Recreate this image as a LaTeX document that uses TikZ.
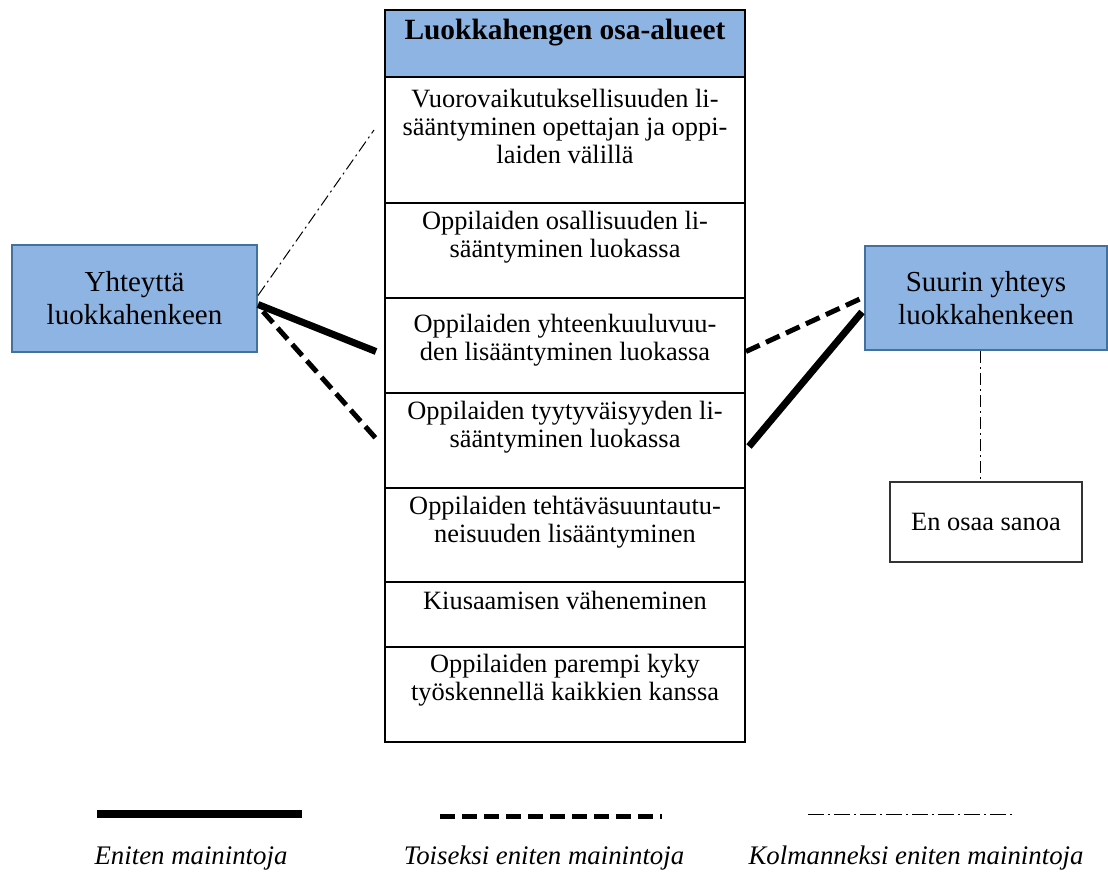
\documentclass[tikz,border=0pt]{standalone}
\usepackage{fontspec}
\setmainfont{Liberation Serif}
\usetikzlibrary{positioning}
\definecolor{osasini}{RGB}{142,180,227}
\definecolor{reunasini}{RGB}{65,113,156}
\tikzset{
  osa/.style={draw=black, line width=1pt, minimum width=180pt, inner sep=0pt},
  osateksti/.style={align=center, font=\fontsize{13.2}{14}\selectfont, inner sep=0pt},
  sivu/.style={draw=reunasini, line width=1pt, fill=osasini, align=center, font=\fontsize{14.5}{16.5}\selectfont},
  eniten/.style={line width=3.5pt},
  toiseksi/.style={line width=2.5pt, dash pattern=on 7.5pt off 3.5pt},
  kolmanneksi/.style={line width=0.5pt, dash pattern=on 6pt off 2pt on 1pt off 2pt},
  selite/.style={font=\fontsize{13.4}{16}\selectfont\itshape}
}
\newcommand{\osa}[5]{\node[osa, minimum height=#3] (#1) at (565,#2) {};
  \node[osateksti, below=#4 of #1.north] (#1t) {#5};}

\begin{document}
\begin{tikzpicture}[x=0.5pt,y=-0.5pt]
\useasboundingbox (0,0) rectangle (1108,873);
% column of areas
\node[osa, fill=osasini, minimum height=33.5pt] (otsikko) at (565,43.5) {};
\node[below=5pt of otsikko.north, inner sep=0pt, font=\fontsize{14.7}{16}\selectfont\bfseries] (otsikkot) {Luokkahengen osa-alueet};
\osa{r1}{140}{63pt}{6.5pt}{Vuorovaikutuksellisuuden li-\\sääntyminen opettajan ja oppi-\\laiden välillä}
\osa{r2}{250.5}{47.5pt}{4.5pt}{Oppilaiden osallisuuden li-\\sääntyminen luokassa}
\osa{r3}{345.5}{47.5pt}{8.5pt}{Oppilaiden yhteenkuuluvuu-\\den lisääntyminen luokassa}
\osa{r4}{440.5}{47.5pt}{4.5pt}{Oppilaiden tyytyväisyyden li-\\sääntyminen luokassa}
\osa{r5}{535}{47pt}{4.5pt}{Oppilaiden tehtäväsuuntautu-\\neisuuden lisääntyminen}
\osa{r6}{614.5}{32.5pt}{5pt}{Kiusaamisen väheneminen}
\osa{r7}{694.5}{47.5pt}{4pt}{Oppilaiden parempi kyky\\työskennellä kaikkien kanssa}
% side boxes
\node[sivu, minimum width=122.5pt, minimum height=53.5pt] (vasen) at (134.5,298.5) {Yhteyttä\\luokkahenkeen};
\node[sivu, minimum width=121pt, minimum height=52pt] (oikea) at (986,298) {Suurin yhteys\\luokkahenkeen};
\node[draw=black!80, line width=0.6pt, minimum width=96pt, minimum height=40pt, font=\fontsize{13.2}{14}\selectfont] (eos) at (986,522) {En osaa sanoa};
% left connectors
\draw[kolmanneksi] ([yshift=1.5pt]vasen.east) -- ([shift={(-5pt,5pt)}]r1.west);
\draw[eniten] ([yshift=-3pt]vasen.east) -- ([shift={(-4pt,-3pt)}]r3.west);
\draw[toiseksi] ([shift={(2.5pt,-6.5pt)}]vasen.east) -- ([shift={(-4pt,1pt)}]r4.west);
% right connectors
\draw[toiseksi] ([yshift=-3pt]r3.east) -- ([xshift=-1pt]oikea.west);
\draw[eniten] ([shift={(1.5pt,-3pt)}]r4.east) -- ([shift={(-1pt,-7pt)}]oikea.west);
\draw[kolmanneksi] ([xshift=-3pt]oikea.south) -- ([xshift=-3pt]eos.north);
% legend
\coordinate (s1a) at (97,814);  \coordinate (s1b) at (302,814);
\coordinate (s2a) at (440,816); \coordinate (s2b) at (662,816);
\coordinate (s3a) at (808,814); \coordinate (s3b) at (1012,814);
\draw[eniten, line width=4pt] (s1a) -- (s1b);
\draw[toiseksi] (s2a) -- (s2b);
\draw[kolmanneksi, dash pattern=on 8pt off 2pt on 1pt off 2pt] (s3a) -- (s3b);
\node[selite] (s1) at (191,858) {Eniten mainintoja};
\node[selite] (s2) at (544,858) {Toiseksi eniten mainintoja};
\node[selite] (s3) at (916,858) {Kolmanneksi eniten mainintoja};
\end{tikzpicture}
\end{document}
